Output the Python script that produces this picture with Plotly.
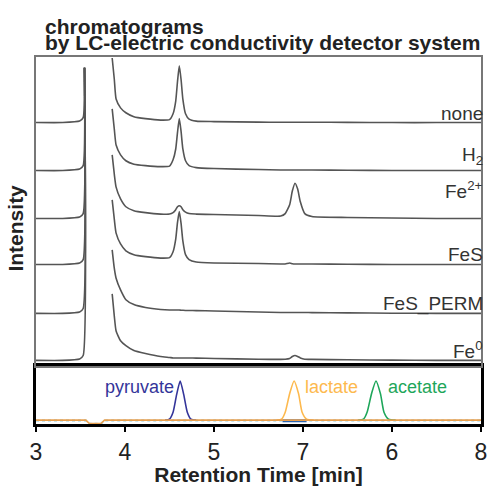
import plotly.graph_objects as go

# ---------------- data ----------------
labels = ["none", "H<sub>2</sub>", "Fe<sup>2+</sup>", "FeS", "FeS_PERM", "Fe<sup>0</sup>"]
offsets = [249, 200, 151, 104, 54, 6]          # stacking offsets of each chromatogram
label_y = [258, 215, 180, 114, 64, 17]
spike_top = 305                                  # where the early (void) peak is cut

x_pre = [3.0, 3.3, 3.49, 3.53]
pre_vals = [0, 0, 1.5, 5]
x_spike = 3.545

x_post = [3.856, 3.88, 3.90, 3.95, 4.01, 4.10, 4.23, 4.40, 4.50, 4.54, 4.57, 4.59, 4.61,
          4.63, 4.65, 4.68, 4.72, 4.80, 5.00, 5.50, 5.75, 5.80, 5.85, 5.88, 5.91, 5.94,
          5.97, 6.02, 6.10, 6.50, 7.00, 7.50, 8.00]

y_none = [66, 44, 24, 15, 10, 6, 4, 2.5, 3, 9, 22, 42, 58, 44, 24, 9, 3.5, 1.5, 1, 0.5,
          0.3, 0.3, 0.3, 0.3, 0.3, 0.3, 0.3, 0.3, 0.3, 0.2, 0, 0, 0]
y_h2 = [63, 42, 26, 16, 10, 6.5, 5, 4, 4.5, 11, 22, 39, 53, 40, 22, 10, 5, 3, 2, 1,
        0.5, 0.5, 0.5, 0.5, 0.5, 0.5, 0.5, 0.5, 0.5, 0.3, 0, 0, 0]
y_fe2 = [65, 45, 32, 20, 12, 8, 6, 4.5, 4.5, 6, 9, 12, 13, 12, 9, 6.5, 5, 4.5, 4, 3,
         2.5, 5, 14, 28, 36, 30, 17, 5, 2, 1, 0.5, 0, 0]
y_fes = [66, 46, 32, 21, 14, 10, 8, 6.5, 7, 13, 26, 43, 54, 42, 24, 10, 5, 2.5, 1.5, 1,
         0.5, 0.5, 1.5, 0.8, 0.5, 0.5, 0.5, 0.5, 0.5, 0.3, 0, 0, 0]
y_perm = [65, 46, 36, 24, 14, 9, 6, 4, 3.5, 3.5, 3.5, 3.5, 3.5, 3.3, 3.2, 3, 3, 2.8, 2.5, 1.5,
          1, 1, 1, 1, 1, 1, 1, 1, 0.8, 0.5, 0.2, 0, 0]
y_fe0 = [68, 45, 30, 20, 15, 10, 7, 4, 3, 2.5, 2.5, 2.5, 2.5, 2.5, 2.5, 2.5, 2.5, 2.3, 2, 1.2,
         1, 1.2, 2, 4, 5, 4, 2.5, 1.2, 1, 0.6, 0.3, 0, 0]
traces_top = [y_none, y_h2, y_fe2, y_fes, y_perm, y_fe0]

# standards panel
std_names = ["pyruvate", "lactate", "acetate"]
std_colors = ["#34359a", "#fdb94e", "#1ea65a"]
pyr_x = [4.45, 4.50, 4.54, 4.58, 4.62, 4.66, 4.70, 4.74, 4.80]
lac_x = [5.70, 5.76, 5.80, 5.85, 5.90, 5.95, 5.99, 6.04, 6.12]
ace_x = [6.62, 6.68, 6.72, 6.77, 6.82, 6.87, 6.91, 6.96, 7.04]
pyr_y = [4, 5, 12, 30, 44, 30, 12, 5, 4]
lac_y = [4, 5, 12, 31, 44, 31, 12, 5, 4]
ace_y = [4, 5, 12, 31, 44, 31, 12, 5, 4]
base_x = [3.0, 3.56, 3.60, 3.73, 3.77, 8.0]
base_y = [4, 4, 0.5, 0.5, 4, 4]

tick_vals = [3, 4, 5, 6, 7, 8]
tick_text = ["3", "4", "5", "7", "6", "8"]

# ---------------- figure ----------------
fig = go.Figure()
FONT = "Liberation Sans, Arial, sans-serif"

for off, yv in zip(offsets, traces_top):
    xs = x_pre + [x_spike, None] + x_post
    ys = [off + v for v in pre_vals] + [spike_top, None] + [off + v for v in yv]
    fig.add_trace(go.Scatter(x=xs, y=ys, mode="lines", xaxis="x2", yaxis="y2",
                             line=dict(color="#555555", width=1.6, shape="spline", smoothing=0.5),
                             showlegend=False, connectgaps=False))

# bottom panel
fig.add_trace(go.Scatter(x=base_x, y=[v - 0.3 for v in base_y], mode="lines",
                         line=dict(color="#8fd0e0", width=2, dash="dot"), showlegend=False))
fig.add_trace(go.Scatter(x=[5.77, 6.04], y=[3.3, 3.3], mode="lines",
                         line=dict(color="#2a64b0", width=3), showlegend=False))
for xs, ys, c in zip([pyr_x, lac_x, ace_x], [pyr_y, lac_y, ace_y], std_colors):
    fig.add_trace(go.Scatter(x=xs, y=ys, mode="lines",
                             line=dict(color=c, width=1.6, shape="spline", smoothing=0.6),
                             showlegend=False))
fig.add_trace(go.Scatter(x=base_x, y=base_y, mode="lines",
                         line=dict(color="#e8a050", width=1.6), showlegend=False))

H = 375.0
bot_frac = 59 / H

fig.update_layout(
    width=494, height=486,
    margin=dict(l=36, r=7, t=57, b=54),
    plot_bgcolor="white", paper_bgcolor="white",
    font=dict(family=FONT, color="#222222"),
    xaxis=dict(domain=[0, 1], range=[3, 8], anchor="y", tickvals=tick_vals, ticktext=tick_text,
               ticks="outside", ticklen=5, tickwidth=2, tickcolor="black",
               showline=True, linewidth=3, linecolor="black", mirror=True,
               showgrid=False, zeroline=False,
               tickfont=dict(size=23, color="#222222"),
               title=dict(text="<b>Retention Time [min]</b>", font=dict(size=21, color="#222222"),
                          standoff=0)),
    yaxis=dict(domain=[0, bot_frac], range=[0, 59], showticklabels=False, ticks="",
               showline=True, linewidth=3, linecolor="black", mirror=True,
               showgrid=False, zeroline=False),
    xaxis2=dict(domain=[0, 1], range=[3, 8], anchor="y2", matches="x", showticklabels=False,
                ticks="", showline=True, linewidth=1.5, linecolor="#777777", mirror=True,
                showgrid=False, zeroline=False),
    yaxis2=dict(domain=[bot_frac, 1], range=[0, 316], showticklabels=False, ticks="",
                showline=True, linewidth=1.5, linecolor="#777777", mirror=True,
                showgrid=False, zeroline=False),
)

annots = []
for lab, ly in zip(labels, label_y):
    annots.append(dict(x=8.0, y=ly, xref="x2", yref="y2", text=lab, showarrow=False,
                       xanchor="right", yanchor="middle", xshift=4,
                       font=dict(size=19, color="#333333", family=FONT)))
annots.append(dict(x=4.57, y=38, xref="x", yref="y", text="pyruvate", showarrow=False,
                   xanchor="right", yanchor="middle", font=dict(size=18, color=std_colors[0])))
annots.append(dict(x=6.0, y=38, xref="x", yref="y", text="lactate", showarrow=False,
                   xanchor="left", yanchor="middle", font=dict(size=18, color=std_colors[1])))
annots.append(dict(x=6.93, y=38, xref="x", yref="y", text="acetate", showarrow=False,
                   xanchor="left", yanchor="middle", font=dict(size=18, color=std_colors[2])))
annots.append(dict(x=(15 - 36) / 451.0, y=(432 - 232) / H, xref="paper", yref="paper",
                   text="<b>Intensity</b>", textangle=-90, showarrow=False,
                   xanchor="center", yanchor="middle", font=dict(size=21, color="#222222")))
annots.append(dict(x=(43 - 36) / 451.0, y=(432 - 26) / H, xref="paper", yref="paper",
                   text="<b>chromatograms</b>", showarrow=False,
                   xanchor="left", yanchor="middle", font=dict(size=21, color="#222222")))
annots.append(dict(x=(43 - 36) / 451.0, y=(432 - 42) / H, xref="paper", yref="paper",
                   text="<b>by LC-electric conductivity detector system</b>", showarrow=False,
                   xanchor="left", yanchor="middle", font=dict(size=21, color="#222222")))
fig.update_layout(annotations=annots)

fig.write_html("out.html")
